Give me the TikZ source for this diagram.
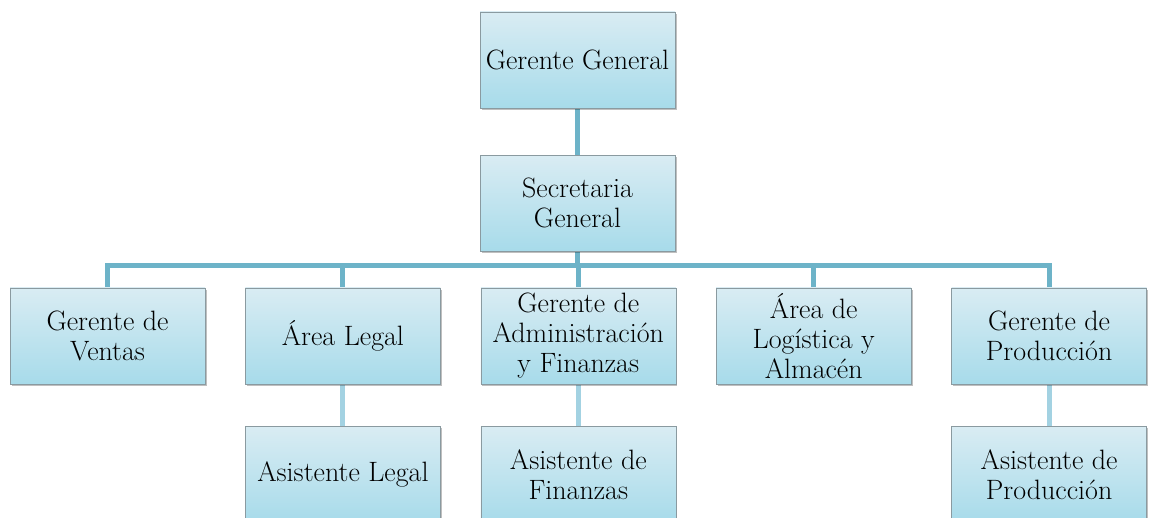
\documentclass[tikz,border=0pt]{standalone}
\usetikzlibrary{positioning, shadows, backgrounds}
\definecolor{boxtop}{HTML}{D9ECF3}
\definecolor{boxbot}{HTML}{A7DBEA}
\definecolor{boxline}{HTML}{8A9AA0}
\definecolor{linkdark}{HTML}{6DB3C8}
\definecolor{linklight}{HTML}{A3D2E2}

\begin{document}
\begin{tikzpicture}[
        x=1pt, y=1pt,
        node distance=42pt and 40pt,
        every node/.style={font=\fontsize{28}{30}\selectfont},
        orgbox/.style={draw=boxline, thin, top color=boxtop, bottom color=boxbot, minimum width=195pt, minimum height=96pt, align=center, inner sep=1pt,
            drop shadow={shadow xshift=1.5pt, shadow yshift=-2pt, fill=black, opacity=0.25}},
        mainlink/.style={line width=5pt, linkdark},
        sublink/.style={line width=5pt, linklight}
    ]
        \useasboundingbox (0,0) rectangle (1149,-518);

        \node[orgbox] (gerente) at (577.5,-60) {Gerente General};
        \node[orgbox, below=47pt of gerente] (secretaria) {Secretaria\\General};

        \node[orgbox] (ventas) at (107.5,-336) {Gerente de\\Ventas};
        \node[orgbox, right=of ventas] (legal) {Área Legal};
        \node[orgbox, right=of legal] (admin) {Gerente de\\Administración\\y Finanzas};
        \node[orgbox, right=of admin] (logistica) {Área de\\Logística y\\Almacén};
        \node[orgbox, right=of logistica] (produccion) {Gerente de\\Producción};

        \node[orgbox, below=of legal] (asislegal) {Asistente Legal};
        \node[orgbox, below=of admin] (asisfin) {Asistente de\\Finanzas};
        \node[orgbox, below=of produccion] (asisprod) {Asistente de\\Producción};

        \coordinate (bus) at (0,-266);

        \begin{scope}[on background layer]
            \draw[mainlink] (gerente) -- (secretaria);
            \draw[mainlink] (secretaria) -- (secretaria |- bus);
            \draw[mainlink] (ventas.north) -- (ventas |- bus) -| (produccion.north);
            \foreach \n in {legal, admin, logistica}
                \draw[mainlink] (\n.north) -- (\n |- bus);
            \draw[sublink] (legal) -- (asislegal);
            \draw[sublink] (admin) -- (asisfin);
            \draw[sublink] (produccion) -- (asisprod);
        \end{scope}
    \end{tikzpicture}
\end{document}
